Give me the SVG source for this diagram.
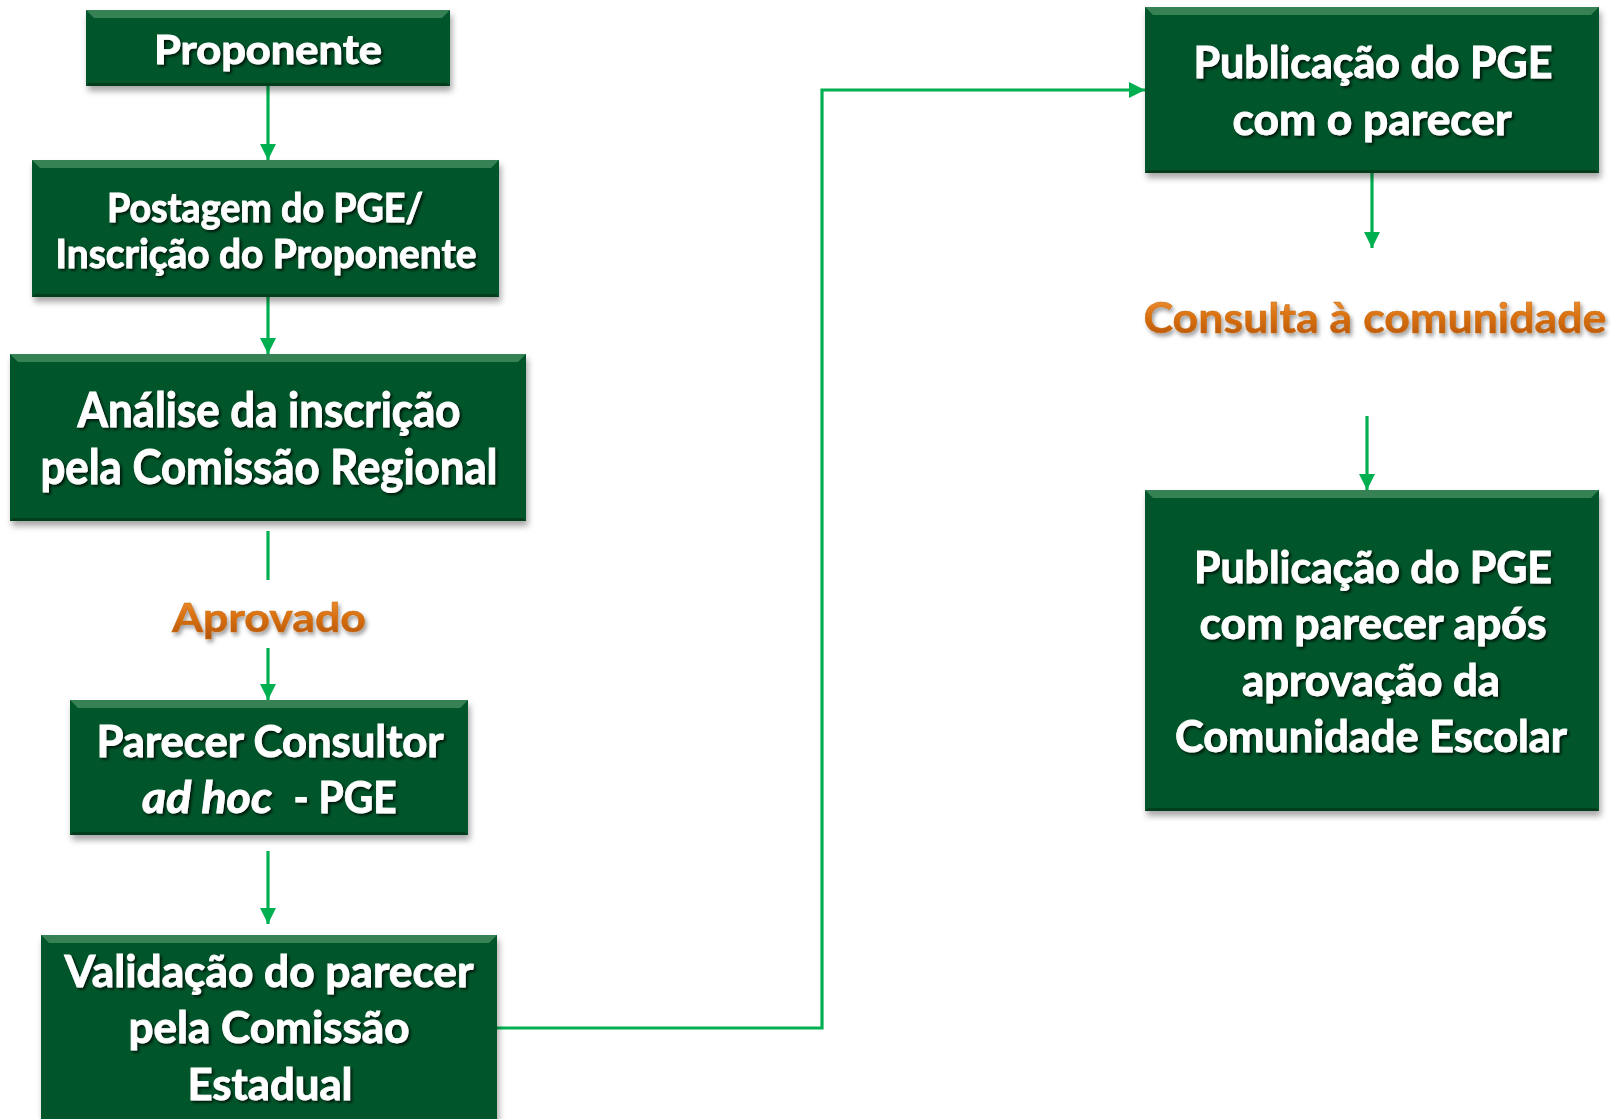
<svg xmlns="http://www.w3.org/2000/svg" width="1623" height="1119" viewBox="0 0 1623 1119">
<defs>
<style>
.box{fill:#06562a}
.bt{fill:#3f8a5c;opacity:.85}
.bb{fill:#033d1c}
.t{font-family:Lato,"Open Sans","Liberation Sans",sans-serif;font-weight:700;fill:#fff;stroke:#fff;stroke-width:0.9;text-anchor:middle;filter:url(#ts)}
.o{font-family:Lato,"Open Sans","Liberation Sans",sans-serif;font-weight:700;fill:url(#og);stroke:#c86a12;stroke-width:0.5;text-anchor:middle;filter:url(#ts2)}
.c{fill:none;stroke:#00b050;stroke-width:3.2}
</style>
<linearGradient id="og" x1="0" y1="0" x2="0" y2="1">
<stop offset="0" stop-color="#f29a42"/>
<stop offset="0.5" stop-color="#d9700f"/>
<stop offset="1" stop-color="#b05204"/>
</linearGradient>
<filter id="ts" x="-10%" y="-30%" width="120%" height="160%">
<feDropShadow dx="2" dy="2" stdDeviation="1.5" flood-color="#000" flood-opacity="0.75"/>
</filter>
<filter id="ts2" x="-10%" y="-30%" width="120%" height="160%">
<feDropShadow dx="2" dy="3" stdDeviation="2" flood-color="#000" flood-opacity="0.4"/>
</filter>
<filter id="bsh" x="-5%" y="-10%" width="112%" height="125%">
<feDropShadow dx="2" dy="5" stdDeviation="3" flood-color="#000" flood-opacity="0.35"/>
</filter>
<marker id="ah" viewBox="0 0 10 10" refX="10" refY="5" markerWidth="5" markerHeight="5" orient="auto" markerUnits="strokeWidth">
<path d="M0,0 L10,5 L0,10 z" fill="#00b050"/>
</marker>
</defs>
<rect width="1623" height="1119" fill="#fff"/>

<g id="connectors">
<line class="c" x1="268" y1="86" x2="268" y2="160" marker-end="url(#ah)"/>
<line class="c" x1="268" y1="297" x2="268" y2="354" marker-end="url(#ah)"/>
<line class="c" x1="268" y1="531" x2="268" y2="580"/>
<line class="c" x1="268" y1="648" x2="268" y2="700" marker-end="url(#ah)"/>
<line class="c" x1="268" y1="851" x2="268" y2="924" marker-end="url(#ah)"/>
<polyline class="c" points="497,1028 822,1028 822,90 1145,90" marker-end="url(#ah)"/>
<line class="c" x1="1372" y1="173" x2="1372" y2="248" marker-end="url(#ah)"/>
<line class="c" x1="1367" y1="416" x2="1367" y2="490" marker-end="url(#ah)"/>
</g>

<g id="n-proponente">
<g filter="url(#bsh)"><rect class="box" x="86" y="10" width="364" height="76"/></g>
<polygon class="bt" points="86,10 450,10 442,18 94,18"/>
<polygon class="bb" points="86,86 450,86 447,83 89,83"/>
<text class="t" x="268" y="64" font-size="40" textLength="228" lengthAdjust="spacingAndGlyphs">Proponente</text>
</g>

<g id="n-postagem">
<g filter="url(#bsh)"><rect class="box" x="32" y="160" width="467" height="137"/></g>
<polygon class="bt" points="32,160 499,160 491,168 40,168"/>
<polygon class="bb" points="32,297 499,297 496,294 35,294"/>
<text class="t" x="265" y="222" font-size="40" textLength="316" lengthAdjust="spacingAndGlyphs">Postagem do PGE/</text>
<text class="t" x="266" y="268" font-size="40" textLength="421" lengthAdjust="spacingAndGlyphs">Inscrição do Proponente</text>
</g>

<g id="n-analise">
<g filter="url(#bsh)"><rect class="box" x="10" y="354" width="516" height="167"/></g>
<polygon class="bt" points="10,354 526,354 518,362 18,362"/>
<polygon class="bb" points="10,521 526,521 523,518 13,518"/>
<text class="t" x="269" y="427" font-size="47" textLength="383" lengthAdjust="spacingAndGlyphs">Análise da inscrição</text>
<text class="t" x="269" y="484" font-size="47" textLength="457" lengthAdjust="spacingAndGlyphs">pela Comissão Regional</text>
</g>

<g id="n-aprovado">
<text class="o" x="269" y="632" font-size="41" textLength="194" lengthAdjust="spacingAndGlyphs">Aprovado</text>
</g>

<g id="n-parecer">
<g filter="url(#bsh)"><rect class="box" x="70" y="700" width="398" height="135"/></g>
<polygon class="bt" points="70,700 468,700 460,708 78,708"/>
<polygon class="bb" points="70,835 468,835 465,832 73,832"/>
<text class="t" x="270" y="757" font-size="44" textLength="347" lengthAdjust="spacingAndGlyphs">Parecer Consultor</text>
<text class="t" x="207" y="813" font-size="44" font-style="italic" textLength="130" lengthAdjust="spacingAndGlyphs">ad hoc</text>
<text class="t" x="345" y="813" font-size="44" textLength="103" lengthAdjust="spacingAndGlyphs">- PGE</text>
</g>

<g id="n-validacao">
<g filter="url(#bsh)"><rect class="box" x="41" y="935" width="456" height="195"/></g>
<polygon class="bt" points="41,935 497,935 489,943 49,943"/>
<text class="t" x="269" y="987" font-size="44" textLength="409" lengthAdjust="spacingAndGlyphs">Validação do parecer</text>
<text class="t" x="269" y="1043" font-size="44" textLength="281" lengthAdjust="spacingAndGlyphs">pela Comissão</text>
<text class="t" x="270" y="1100" font-size="44" textLength="165" lengthAdjust="spacingAndGlyphs">Estadual</text>
</g>

<g id="n-publicacao1">
<g filter="url(#bsh)"><rect class="box" x="1145" y="7" width="454" height="166"/></g>
<polygon class="bt" points="1145,7 1599,7 1591,15 1153,15"/>
<polygon class="bb" points="1145,173 1599,173 1596,170 1148,170"/>
<text class="t" x="1373" y="78" font-size="44" textLength="359" lengthAdjust="spacingAndGlyphs">Publicação do PGE</text>
<text class="t" x="1372" y="135" font-size="44" textLength="279" lengthAdjust="spacingAndGlyphs">com o parecer</text>
</g>

<g id="n-consulta">
<text class="o" x="1375" y="333" font-size="42" textLength="463" lengthAdjust="spacingAndGlyphs">Consulta à comunidade</text>
</g>

<g id="n-publicacao2">
<g filter="url(#bsh)"><rect class="box" x="1145" y="490" width="454" height="321"/></g>
<polygon class="bt" points="1145,490 1599,490 1591,498 1153,498"/>
<polygon class="bb" points="1145,811 1599,811 1596,808 1148,808"/>
<text class="t" x="1373" y="583" font-size="44" textLength="358" lengthAdjust="spacingAndGlyphs">Publicação do PGE</text>
<text class="t" x="1373" y="639" font-size="44" textLength="347" lengthAdjust="spacingAndGlyphs">com parecer após</text>
<text class="t" x="1371" y="696" font-size="44" textLength="258" lengthAdjust="spacingAndGlyphs">aprovação da</text>
<text class="t" x="1371" y="752" font-size="44" textLength="392" lengthAdjust="spacingAndGlyphs">Comunidade Escolar</text>
</g>
</svg>
